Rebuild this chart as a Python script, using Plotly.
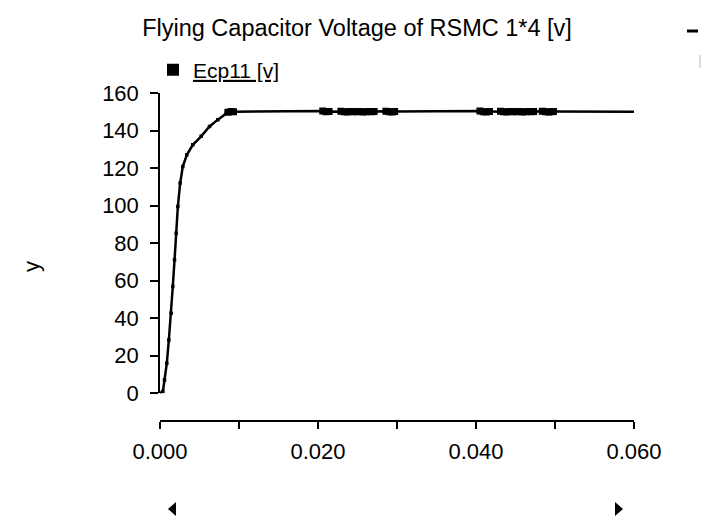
import plotly.graph_objects as go

# Flying capacitor voltage Ecp11 of the RSMC 1*4 converter (time in s, voltage in V)
t_rise = [0.0, 0.00036, 0.00057, 0.00086, 0.00112, 0.00141, 0.00162, 0.00184,
          0.00205, 0.00226, 0.00255, 0.00289, 0.0034, 0.00415, 0.00521, 0.00627,
          0.00732, 0.00838]
v_rise = [0.0, 0.9, 7.1, 16.0, 28.4, 42.7, 56.9, 71.1,
          85.3, 99.5, 112.0, 120.9, 127.1, 132.4, 136.9, 142.2,
          145.8, 149.3]

# Logged steady-state samples
t_logged = [0.0086, 0.0090, 0.0093,
            0.0206, 0.0210, 0.0214,
            0.0229, 0.0233, 0.0237, 0.0241, 0.0245, 0.0249, 0.0253, 0.0257,
            0.0261, 0.0265, 0.0268, 0.0271,
            0.0286, 0.0290, 0.0294, 0.0297,
            0.0405, 0.0409, 0.0413, 0.0417,
            0.0431, 0.0435, 0.0439, 0.0443, 0.0447, 0.0451, 0.0455, 0.0459,
            0.0463, 0.0467, 0.0470, 0.0473,
            0.0484, 0.0488, 0.0492, 0.0495, 0.0498]
v_logged = [149.8, 150.1, 150.0,
            150.4, 150.0, 150.2,
            150.3, 150.0, 149.9, 150.1, 150.0, 150.0, 150.1, 149.9,
            150.0, 150.1, 150.0, 150.2,
            150.3, 150.0, 149.9, 150.2,
            150.4, 150.0, 149.9, 150.2,
            150.3, 150.0, 149.9, 150.1, 150.0, 150.0, 150.1, 149.9,
            150.0, 150.1, 150.0, 150.2,
            150.3, 150.0, 149.9, 150.0, 150.2]

t_end, v_end = 0.0600, 150.0

t_curve = t_rise + t_logged + [t_end]
v_curve = v_rise + v_logged + [v_end]

x_tickvals = [0.0, 0.01, 0.02, 0.03, 0.04, 0.05, 0.06]
x_ticktext = ["0.000", "", "0.020", "", "0.040", "", "0.060"]
y_tickvals = [0, 20, 40, 60, 80, 100, 120, 140, 160]

W, H = 701, 519
ML, MR, MT, MB = 160, 67, 93, 98
PW, PH = W - ML - MR, H - MT - MB


def px(xp):
    return (xp - ML) / PW


def py(yp):
    return (H - MB - yp) / PH


FONT = "Liberation Sans, Arial, sans-serif"

fig = go.Figure()
fig.add_trace(go.Scatter(
    x=t_curve, y=v_curve, mode="lines",
    line=dict(color="black", width=2.5), showlegend=False, hoverinfo="skip"))
# small sample markers along the charging transient
fig.add_trace(go.Scatter(
    x=t_rise, y=v_rise, mode="markers",
    marker=dict(symbol="square", size=3.5, color="black"), showlegend=False))
fig.add_trace(go.Scatter(
    x=t_logged, y=v_logged, mode="markers",
    marker=dict(symbol="square", size=7, color="black"), showlegend=False))
# legend entry
fig.add_trace(go.Scatter(
    x=[None], y=[None], mode="markers", name="<u>Ecp11 [v]</u>",
    marker=dict(symbol="square", size=12, color="black")))

fig.update_layout(
    width=W, height=H,
    margin=dict(l=ML, r=MR, t=MT, b=MB, autoexpand=False),
    paper_bgcolor="white", plot_bgcolor="white",
    font=dict(family=FONT, size=22, color="black"),
    title=dict(text="Flying Capacitor Voltage of RSMC 1*4 [v]", x=px(357), xref="paper",
               xanchor="center", y=1 - 28 / H, yanchor="middle",
               font=dict(family=FONT, size=23.5, color="black")),
    xaxis=dict(range=[0, 0.06], anchor="free", position=0, tickvals=x_tickvals,
               ticktext=x_ticktext, ticks="outside", ticklen=7, tickwidth=1.5,
               tickcolor="black", showline=True, linecolor="black", linewidth=1.5,
               showgrid=False, zeroline=False, ticklabelstandoff=4),
    yaxis=dict(range=[0, 160], domain=[(421 - 393.3) / PH, 1], tickvals=y_tickvals,
               ticks="outside", ticklen=8, tickwidth=1.5, tickcolor="black",
               showline=True, linecolor="black", linewidth=1.5, showgrid=False,
               zeroline=False, ticklabelstandoff=7),
    legend=dict(x=px(153), y=py(70), xanchor="left", yanchor="middle",
                bgcolor="rgba(0,0,0,0)", font=dict(family=FONT, size=21, color="black")),
    showlegend=True,
    annotations=[dict(text="y", x=px(31), y=py(267), xref="paper", yref="paper",
                      showarrow=False, textangle=-90, xanchor="center", yanchor="middle",
                      font=dict(family=FONT, size=22, color="black"))],
    shapes=[
        dict(type="line", xref="paper", yref="paper", x0=px(687), x1=px(698), y0=py(31), y1=py(31),
             line=dict(color="black", width=3)),
        dict(type="line", xref="paper", yref="paper", x0=px(700), x1=px(700), y0=py(55), y1=py(68),
             line=dict(color="#bbbbbb", width=1)),
        dict(type="path", xref="paper", yref="paper", fillcolor="black", line=dict(width=0),
             path=f"M {px(168)} {py(509)} L {px(176)} {py(502)} L {px(176)} {py(516)} Z"),
        dict(type="path", xref="paper", yref="paper", fillcolor="black", line=dict(width=0),
             path=f"M {px(623)} {py(509)} L {px(615)} {py(502)} L {px(615)} {py(516)} Z"),
    ],
)

fig.write_html("out.html")
